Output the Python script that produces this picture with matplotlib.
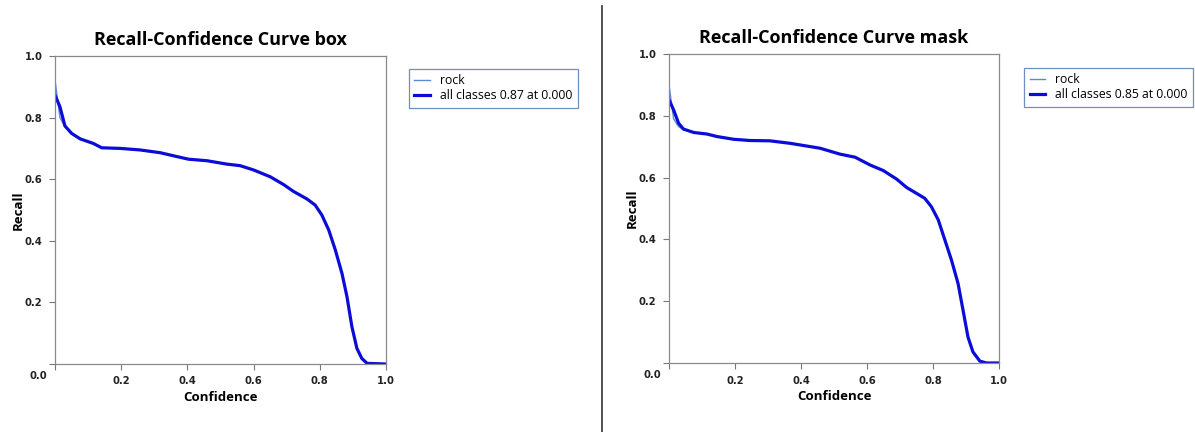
import numpy as np
import matplotlib
matplotlib.use("Agg")
import matplotlib.pyplot as plt

# Recall vs confidence
box_conf = [0.0, 0.015, 0.030, 0.050, 0.076, 0.116, 0.141, 0.197, 0.257, 0.318,
            0.358, 0.403, 0.459, 0.519, 0.559, 0.600, 0.650, 0.690, 0.721, 0.761,
            0.786, 0.806, 0.827, 0.847, 0.867, 0.882, 0.897, 0.912, 0.927, 0.943, 1.0]
box_all = [0.873, 0.835, 0.773, 0.749, 0.731, 0.716, 0.702, 0.700, 0.695, 0.686,
           0.676, 0.665, 0.660, 0.649, 0.644, 0.630, 0.608, 0.583, 0.560, 0.536,
           0.516, 0.484, 0.435, 0.370, 0.294, 0.219, 0.121, 0.051, 0.018, 0.002, 0.0]
box_rock = [0.922, 0.800, 0.770, 0.747, 0.729, 0.715, 0.701, 0.699, 0.694, 0.685,
            0.675, 0.664, 0.659, 0.648, 0.643, 0.629, 0.607, 0.582, 0.559, 0.535,
            0.515, 0.483, 0.434, 0.369, 0.296, 0.220, 0.118, 0.049, 0.016, 0.001, 0.0]

mask_conf = [0.0, 0.014, 0.029, 0.044, 0.075, 0.115, 0.145, 0.196, 0.246, 0.306,
             0.367, 0.407, 0.458, 0.518, 0.564, 0.609, 0.649, 0.690, 0.720, 0.750,
             0.775, 0.795, 0.816, 0.836, 0.856, 0.876, 0.891, 0.906, 0.921, 0.942,
             0.962, 1.0]
mask_all = [0.852, 0.819, 0.776, 0.757, 0.746, 0.741, 0.733, 0.724, 0.720, 0.719,
            0.711, 0.704, 0.695, 0.676, 0.666, 0.641, 0.623, 0.595, 0.568, 0.549,
            0.533, 0.506, 0.463, 0.398, 0.333, 0.257, 0.171, 0.084, 0.036, 0.006,
            0.0, 0.0]
mask_rock = [0.900, 0.790, 0.765, 0.755, 0.745, 0.740, 0.732, 0.723, 0.719, 0.718,
             0.710, 0.703, 0.694, 0.675, 0.665, 0.640, 0.622, 0.594, 0.567, 0.548,
             0.532, 0.505, 0.462, 0.397, 0.335, 0.260, 0.168, 0.081, 0.034, 0.005,
             0.0, 0.0]

panels = [
    ("Recall-Confidence Curve box", box_conf, box_rock, box_all, "all classes 0.87 at 0.000",
     [55/1195, 68/432, 331/1195, 308/432], (1.069, 0.958)),
    ("Recall-Confidence Curve mask", mask_conf, mask_rock, mask_all, "all classes 0.85 at 0.000",
     [669/1195, 69/432, 330/1195, 309/432], (1.076, 0.955)),
]

TEXT_FONT = ["Open Sans", "DejaVu Sans"]

fig = plt.figure(figsize=(11.95, 4.32), dpi=100)

for title, conf, rock, allc, label, pos, leg_at in panels:
    ax = fig.add_axes(pos)
    ax.plot(conf, rock, color="#5b8bd0", lw=1.0, label="rock")
    ax.plot(conf, allc, color="#0c0cd8", lw=2.3, label=label)
    ax.set_xlim(0, 1)
    ax.set_ylim(0, 1)
    ticks = [0.0, 0.2, 0.4, 0.6, 0.8, 1.0]
    ax.set_xticks(ticks)
    ax.set_yticks(ticks)
    ax.set_xticklabels([""] + [f"{t:.1f}" for t in ticks[1:]])
    ax.set_yticklabels([""] + [f"{t:.1f}" for t in ticks[1:]])
    ax.text(-0.05, -0.04, "0.0", transform=ax.transAxes, ha="center", va="center",
            fontsize=7.2, fontweight="bold", color="#222222")
    ax.tick_params(direction="out", length=4, width=0.8, color="#777777",
                   labelsize=7.2, labelcolor="#222222", pad=5)
    for lab in ax.get_xticklabels() + ax.get_yticklabels():
        lab.set_fontweight("bold")
    for sp in ax.spines.values():
        sp.set_color("#8a8a8a")
        sp.set_linewidth(0.9)
    ax.set_title(title, fontsize=13, fontweight="bold", family=TEXT_FONT, pad=8)
    ax.set_xlabel("Confidence", fontsize=9.5, fontweight="bold", family=TEXT_FONT, labelpad=3)
    ax.set_ylabel("Recall", fontsize=9.5, fontweight="bold", family=TEXT_FONT, labelpad=0)
    leg = ax.legend(loc="upper left", bbox_to_anchor=leg_at, borderaxespad=0,
                    fancybox=False, framealpha=1, edgecolor="#6f8fbf", handlelength=1.3,
                    borderpad=0.45, labelspacing=0.15,
                    prop={"family": TEXT_FONT, "size": 8.8})
    leg.get_frame().set_linewidth(0.9)

# divider between the two panels
fig.add_artist(plt.Line2D([602/1195, 602/1195], [0, 1 - 6/432], color="#333333", lw=1.2))

fig.savefig("out.png", dpi=100)
